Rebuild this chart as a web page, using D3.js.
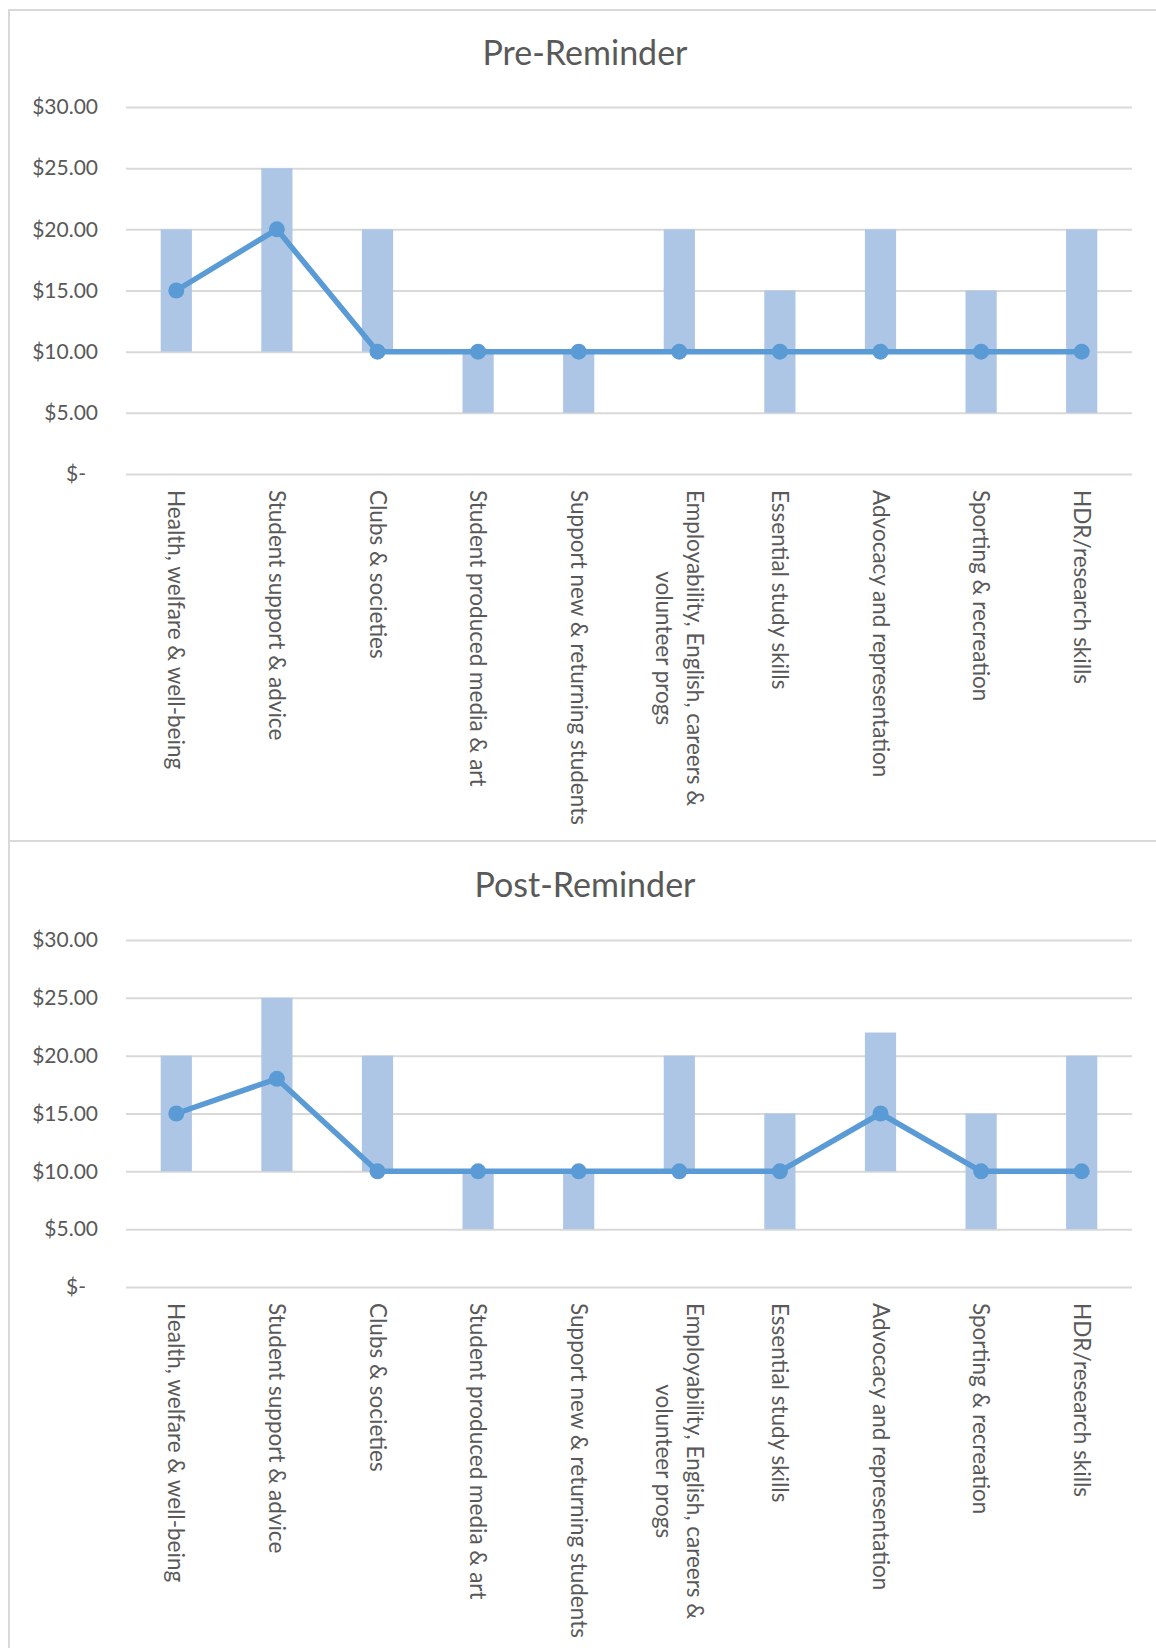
<!DOCTYPE html>
<html>
<head>
<meta charset="utf-8">
<script src="https://cdn.jsdelivr.net/npm/d3@7"></script>
<style>
  body { margin: 0; background: #fff; }
  text { font-family: Lato, "Open Sans", sans-serif; fill: #595959; }
</style>
</head>
<body>
<div id="chart"></div>
<script>
// categories along the x axis (same for both charts)
var categories = [
  "Health, welfare & well-being",
  "Student support & advice",
  "Clubs & societies",
  "Student produced media & art",
  "Support new & returning students",
  "Employability, English, careers & volunteer progs",
  "Essential study skills",
  "Advocacy and representation",
  "Sporting & recreation",
  "HDR/research skills"
];

// floating bar range (low -> high) and the line value
var preLow    = [10, 10, 10, 5, 5, 10, 5, 10, 5, 5];
var preHigh   = [20, 25, 20, 10, 10, 20, 15, 20, 15, 20];
var preValue  = [15, 20, 10, 10, 10, 10, 10, 10, 10, 10];

var postLow   = [10, 10, 10, 5, 5, 10, 5, 10, 5, 5];
var postHigh  = [20, 25, 20, 10, 10, 20, 15, 22, 15, 20];
var postValue = [15, 18, 10, 10, 10, 10, 10, 15, 10, 10];

var yTicks = [0, 5, 10, 15, 20, 25, 30];

var W = 1156, H = 1648;

var svg = d3.select("#chart")
  .append("svg")
    .attr("width", W)
    .attr("height", H);

// chart frames
svg.append("rect")
  .attr("x", 9).attr("y", 10)
  .attr("width", 1170).attr("height", 831)
  .attr("fill", "none").attr("stroke", "#d9d9d9").attr("stroke-width", 2);
svg.append("rect")
  .attr("x", 9).attr("y", 841)
  .attr("width", 1170).attr("height", 830)
  .attr("fill", "none").attr("stroke", "#d9d9d9").attr("stroke-width", 2);

function wrap(text, width) {
  text.each(function() {
    var t = d3.select(this),
        words = t.text().split(/\s+/),
        lines = [], line = [];
    t.text(null);
    var tmp = t.append("tspan");
    words.forEach(function(w) {
      line.push(w);
      tmp.text(line.join(" "));
      if (tmp.node().getComputedTextLength() > width && line.length > 1) {
        line.pop();
        lines.push(line.join(" "));
        line = [w];
      }
    });
    lines.push(line.join(" "));
    tmp.remove();
    var lh = 1.4;
    lines.forEach(function(l, i) {
      t.append("tspan")
        .attr("x", t.attr("x"))
        .attr("dy", i == 0 ? (0.35 - (lines.length - 1) * lh / 2) + "em" : lh + "em")
        .attr("text-anchor", lines.length > 1 ? "middle" : "start")
        .text(l);
    });
    if (lines.length > 1) {
      // centre each line in the block, like excel does
      var maxLen = 0;
      t.selectAll("tspan").each(function() {
        maxLen = Math.max(maxLen, this.getComputedTextLength());
      });
      t.selectAll("tspan").attr("x", +t.attr("x") + maxLen / 2);
    }
  });
}

function drawChart(title, low, high, value, top, bottom, titleY) {
  var left = 126, right = 1132;

  var x = d3.scaleBand()
    .domain(categories)
    .range([left, right])
    .paddingInner(0.69)
    .paddingOuter(0.345);

  var y = d3.scaleLinear()
    .domain([0, 30])
    .range([bottom, top]);

  var g = svg.append("g");

  g.append("text")
    .attr("x", 585)
    .attr("y", titleY)
    .attr("text-anchor", "middle")
    .style("font-size", "34px")
    .text(title);

  // y axis + gridlines
  var ya = g.append("g")
    .attr("transform", "translate(" + left + ",0)")
    .call(d3.axisLeft(y)
      .tickValues(yTicks)
      .tickSize(-(right - left))
      .tickPadding(28)
      .tickFormat(function(d) { return d == 0 ? "$-" : "$" + d3.format(".2f")(d); }));
  ya.select(".domain").remove();
  ya.selectAll(".tick line").attr("stroke", "#d9d9d9").attr("stroke-width", 2);
  ya.selectAll(".tick text")
    .style("font-size", "21px")
    .attr("fill", "#595959")
    .attr("dx", function(d) { return d == 0 ? -12 : 0; });

  // floating bars
  g.selectAll(".bar")
    .data(categories)
    .enter()
    .append("rect")
      .attr("class", "bar")
      .attr("x", function(d) { return x(d); })
      .attr("width", x.bandwidth())
      .attr("y", function(d, i) { return y(high[i]); })
      .attr("height", function(d, i) { return y(low[i]) - y(high[i]); })
      .attr("fill", "#adc6e5");

  // line
  var line = d3.line()
    .x(function(d, i) { return x(categories[i]) + x.bandwidth() / 2; })
    .y(function(d) { return y(d); });

  g.append("path")
    .datum(value)
    .attr("d", line)
    .attr("fill", "none")
    .attr("stroke", "#5b9bd5")
    .attr("stroke-width", 5.5)
    .attr("stroke-linejoin", "round");

  g.selectAll(".dot")
    .data(value)
    .enter()
    .append("circle")
      .attr("cx", function(d, i) { return x(categories[i]) + x.bandwidth() / 2; })
      .attr("cy", function(d) { return y(d); })
      .attr("r", 8)
      .attr("fill", "#5b9bd5");

  // x axis labels, rotated
  var xa = g.append("g")
    .attr("transform", "translate(0," + bottom + ")")
    .call(d3.axisBottom(x).tickSize(0).tickPadding(0));
  xa.select(".domain").remove();
  xa.selectAll(".tick text")
    .style("font-size", "22.5px")
    .attr("fill", "#595959")
    .attr("transform", "rotate(90)")
    .attr("text-anchor", "start")
    .attr("x", 16)
    .attr("y", 0)
    .attr("dy", null)
    .call(wrap, 350);
}

drawChart("Pre-Reminder", preLow, preHigh, preValue, 107, 474, 65);
drawChart("Post-Reminder", postLow, postHigh, postValue, 940, 1287, 897);
</script>
</body>
</html>
